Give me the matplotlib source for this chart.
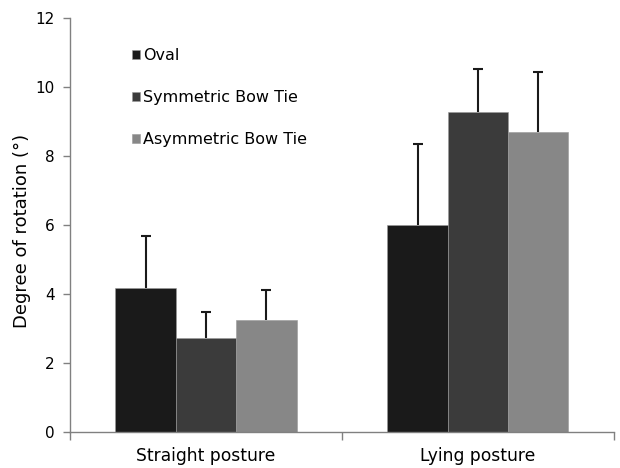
import matplotlib
matplotlib.use("Agg")
import matplotlib.pyplot as plt
import numpy as np

categories = ["Straight posture", "Lying posture"]
series = ["Oval", "Symmetric Bow Tie", "Asymmetric Bow Tie"]
means = {
    "Oval": [4.16, 6.01],
    "Symmetric Bow Tie": [2.71, 9.28],
    "Asymmetric Bow Tie": [3.23, 8.70],
}
errors = {
    "Oval": [1.51, 2.33],
    "Symmetric Bow Tie": [0.76, 1.23],
    "Asymmetric Bow Tie": [0.87, 1.73],
}
colors = ["#1a1a1a", "#3b3b3b", "#878787"]
yticks = [0, 2, 4, 6, 8, 10, 12]

plt.rcParams["font.family"] = ["DejaVu Sans"]

fig = plt.figure(figsize=(6.2, 4.68), dpi=100)
ax = fig.add_axes([0.113, 0.077, 0.877, 0.885])

x = np.arange(len(categories))
width = 0.222
for i, name in enumerate(series):
    pos = x + (i - 1) * width
    ax.bar(pos, means[name], width, color=colors[i], label=name,
           edgecolor="#9a9a9a", linewidth=0.4, zorder=2)
    eb = ax.errorbar(pos, means[name], yerr=[np.zeros(len(x)), errors[name]],
                     fmt="none", ecolor="#1a1a1a", elinewidth=1.5, capsize=3.5,
                     capthick=1.5, zorder=3)
    # only the upper whisker carries a cap
    eb[1][0].set_visible(False)

ax.set_xlim(-0.5, 1.5)
ax.set_ylim(0, 12)
ax.set_yticks(yticks)
ax.set_yticklabels([str(v) for v in yticks], fontsize=11)
ax.set_xticks(x)
ax.set_xticklabels(categories, fontsize=12.3)
ax.tick_params(axis="x", which="major", length=0, pad=11)
ax.set_xticks([-0.5, 0.5, 1.5], minor=True)
ax.tick_params(axis="x", which="minor", length=6, color="#808080", width=1)
ax.tick_params(axis="y", length=5, color="#808080", width=1, pad=6)

for side in ["top", "right"]:
    ax.spines[side].set_visible(False)
for side in ["left", "bottom"]:
    ax.spines[side].set_color("#808080")
    ax.spines[side].set_linewidth(1)

ax.set_ylabel("Degree of rotation (°)", fontsize=13)
ax.yaxis.set_label_coords(-0.072, 0.485)

ax.legend(loc="upper left", bbox_to_anchor=(0.103, 0.942), frameon=False,
          fontsize=11.5, handlelength=0.48, handleheight=0.48,
          handletextpad=0.2, labelspacing=1.68, borderaxespad=0)

fig.savefig("out.png", dpi=100)
